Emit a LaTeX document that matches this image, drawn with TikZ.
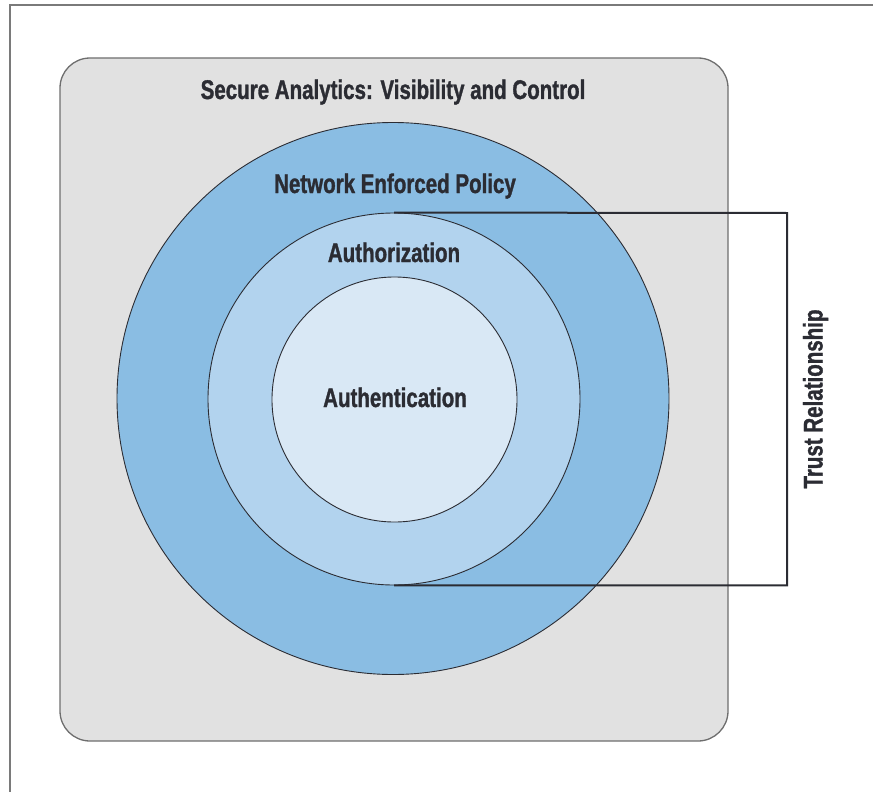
\documentclass[tikz,border=0pt]{standalone}
\usepackage{fontspec}
\setmainfont[FakeStretch=0.76,BoldFeatures={FakeBold=1.2}]{Liberation Sans}
\definecolor{panelgray}{HTML}{E1E1E1}
\definecolor{ringouter}{HTML}{8ABDE3}
\definecolor{ringmid}{HTML}{B2D3EE}
\definecolor{ringinner}{HTML}{D9E8F5}
\definecolor{inkdark}{HTML}{2B2C33}
\definecolor{framegray}{HTML}{7A7A7A}
\begin{document}
\begin{tikzpicture}[x=1pt,y=-1pt,
  ring/.style={circle,draw=inkdark,line width=0.9pt,inner sep=0pt},
  bigfont/.style={font=\bfseries\fontsize{27}{30}\selectfont},
  lbl/.style={text=inkdark,bigfont,anchor=base,inner sep=0pt},
]
\useasboundingbox (0,0) rectangle (873,792);
% page frame (top and left rules)
\draw[framegray,line width=1.4pt] (10,792) -- (10,5) -- (873,5);
% grey panel
\node[draw=framegray!90!black,line width=1.3pt,fill=panelgray,rounded corners=30pt,
      minimum width=668pt,minimum height=683pt,inner sep=0pt] (panel) at (394,399.5) {};
% concentric rings
\node[ring,fill=ringouter,minimum size=552pt] (outer) at (393,398.5) {};
\node[ring,fill=ringmid,minimum size=372pt] (mid) at (394,399) {};
\node[ring,fill=ringinner,minimum size=245pt] (inner) at (394.5,399.5) {};
% labels
\node[lbl] (ttl) at (393,99) {Secure Analytics: Visibility and Control};
\node[lbl] (nep) at (395,193) {Network Enforced Policy};
\node[lbl] (authz) at (394,262) {Authorization};
\node[lbl] (authn) at (395,407) {Authentication};
% trust bracket
\coordinate (br) at (787,213);
\draw[inkdark,line width=2pt] (mid.north) -- (br) |- (mid.south);
\node[lbl,rotate=90] (trust) at (822.5,399) {Trust Relationship};
\end{tikzpicture}
\end{document}
